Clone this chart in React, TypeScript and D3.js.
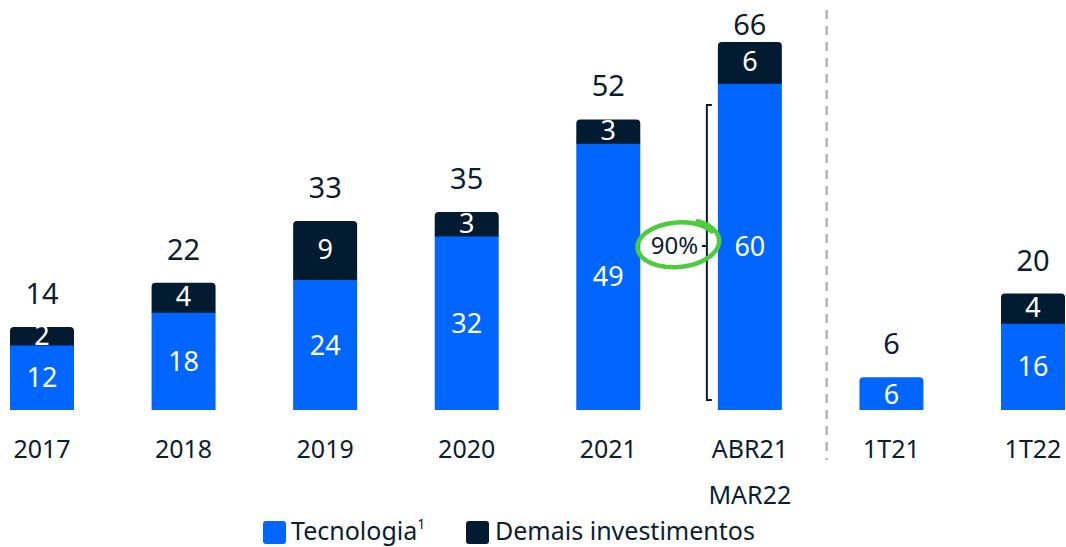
import React from 'react';
import * as d3 from 'd3';

const categories = ['2017', '2018', '2019', '2020', '2021', 'ABR21 MAR22', '1T21', '1T22'];
const tecnologia = [12, 18, 24, 32, 49, 60, 6, 16];
const demais = [2, 4, 9, 3, 3, 6, 0, 4];
const totals = [14, 22, 33, 35, 52, 66, 6, 20];
const shareLabel = '90%';

const BLUE = '#0066ff';
const NAVY = '#021b31';
const TEXT = '#0b1d30';
const FONT = '"Noto Sans", "Open Sans", sans-serif';

const width = 1066;
const height = 547;
const baseline = 410;

// rect with only top corners rounded
function topRounded(x, y, w, h, r) {
  const rr = Math.min(r, h / 2);
  return `M${x},${y + h}V${y + rr}Q${x},${y} ${x + rr},${y}H${x + w - rr}Q${x + w},${y} ${x + w},${y + rr}V${y + h}Z`;
}

export default function App() {
  const x = d3.scaleBand().domain(categories).range([10, 1065]).paddingInner(0.548).paddingOuter(0);
  const y = d3.scaleLinear().domain([0, 66]).range([baseline, baseline - 360]);
  // the "demais" segments are drawn thicker than the blue ones in the original
  const hDemais = d3.scaleLinear().domain([0, 9]).range([6, 58]);
  const bw = x.bandwidth();

  const bars = categories.map((c, i) => {
    const x0 = x(c);
    const blueTop = y(tecnologia[i]);
    const dh = demais[i] > 0 ? hDemais(demais[i]) : 0;
    const top = blueTop - dh;
    return { c, i, x0, blueTop, dh, top };
  });

  const iLast = categories.indexOf('ABR21 MAR22');
  const bLast = bars[iLast];
  const bPrev = bars[iLast - 1];
  const bracketX = bLast.x0 - 11;
  const bracketTop = 105;
  const bracketBottom = baseline - 10;
  const ellCx = (bPrev.x0 + bw + bracketX) / 2 + 4;
  const ellCy = 244;
  const sepX = (x(categories[iLast]) + bw + x(categories[iLast + 1])) / 2 + 6;

  // hand drawn ellipse around the share label
  const ell = d3.range(0, 1.1, 0.01).map((t) => {
    const a = -0.45 - t * Math.PI * 2;
    const rx = 39 + t * 3;
    const ry = 21 + t * 3;
    const px = rx * Math.cos(a);
    const py = ry * Math.sin(a);
    const rot = -0.1;
    return [ellCx + px * Math.cos(rot) - py * Math.sin(rot), ellCy + px * Math.sin(rot) + py * Math.cos(rot)];
  });
  const ellPath = d3.line().curve(d3.curveBasis)(ell);

  return (
    <div style={{ position: 'absolute', left: 0, top: 0 }}>
      <svg width={width} height={height} style={{ display: 'block', fontFamily: FONT }}>
        <rect width={width} height={height} fill="#ffffff" />
        {bars.map((b) => (
          <g key={b.c}>
            {b.dh > 0 ? (
              <>
                <rect x={b.x0} y={b.blueTop} width={bw} height={baseline - b.blueTop} fill={BLUE} />
                <path d={topRounded(b.x0, b.top, bw, b.dh + 1, 4)} fill={NAVY} />
                <text x={b.x0 + bw / 2} y={b.top + b.dh / 2 + 9} textAnchor="middle" fontSize={27} fill="#fff">
                  {demais[b.i]}
                </text>
              </>
            ) : (
              <path d={topRounded(b.x0, b.blueTop, bw, baseline - b.blueTop, 4)} fill={BLUE} />
            )}
            <text
              x={b.x0 + bw / 2}
              y={(b.blueTop + baseline) / 2 + 10}
              textAnchor="middle"
              fontSize={27}
              fill="#fff"
            >
              {tecnologia[b.i]}
            </text>
            <text x={b.x0 + bw / 2} y={Math.max(b.top - 23, 35)} textAnchor="middle" fontSize={29} fill={TEXT}>
              {totals[b.i]}
            </text>
            {b.c.split(' ').map((line, k) => (
              <text key={k} x={b.x0 + bw / 2} y={458 + k * 46} textAnchor="middle" fontSize={25} fill={TEXT}>
                {line}
              </text>
            ))}
          </g>
        ))}

        {/* separator between annual and quarterly bars */}
        <line x1={sepX} x2={sepX} y1={10} y2={460} stroke="#b4b4b4" strokeWidth={2.5} strokeDasharray="9 7" />

        {/* bracket */}
        <path
          d={`M${bracketX + 5},${bracketTop}H${bracketX}V${bracketBottom}H${bracketX + 5}`}
          fill="none"
          stroke={TEXT}
          strokeWidth={2}
        />
        <line x1={bracketX - 5} x2={bracketX} y1={ellCy + 2} y2={ellCy + 2} stroke={TEXT} strokeWidth={2} />

        <path d={ellPath} fill="none" stroke="#4ccc3a" strokeWidth={4.5} strokeLinecap="round" />
        <text x={ellCx - 3} y={ellCy + 10} textAnchor="middle" fontSize={24} fill={TEXT}>
          {shareLabel}
        </text>

        {/* legend */}
        <rect x={263} y={521} width={23} height={23} rx={3} fill={BLUE} />
        <text x={291} y={540} fontSize={25} fill={TEXT}>
          Tecnologia<tspan fontSize={14} dy={-11}>1</tspan>
        </text>
        <rect x={466} y={521} width={23} height={23} rx={3} fill={NAVY} />
        <text x={495} y={540} fontSize={25} fill={TEXT}>
          Demais investimentos
        </text>
      </svg>
    </div>
  );
}
